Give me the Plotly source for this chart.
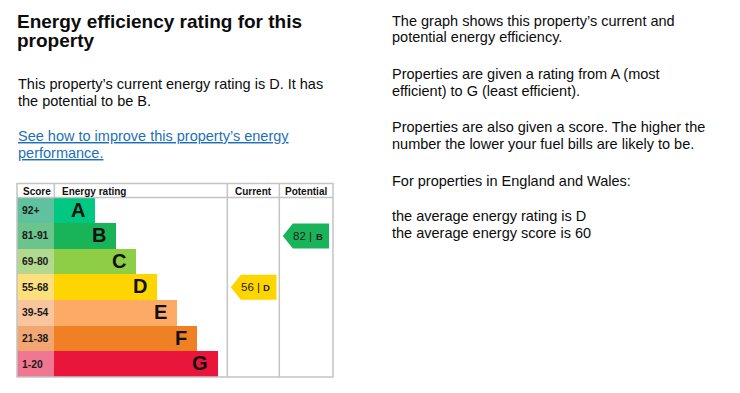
import plotly.graph_objects as go

# ---------------- data ----------------
bands = ["A", "B", "C", "D", "E", "F", "G"]
score_ranges = ["92+", "81-91", "69-80", "55-68", "39-54", "21-38", "1-20"]
band_min_score = [92, 81, 69, 55, 39, 21, 1]
band_bar_units = [2, 3, 4, 5, 6, 7, 8]          # relative bar lengths of the rating bands
band_colors = ["#00c781", "#19b459", "#8dce46", "#ffd500", "#fcaa65", "#ef8023", "#e9153b"]
score_colors = ["#60c19e", "#6bc48b", "#b3d98e", "#fde07b", "#f8c59d", "#f2a773", "#ef7791"]
current_score = 56
potential_score = 82
header_labels = ["Score", "Energy rating", "Current", "Potential"]

title_lines = ["Energy efficiency rating for this", "property"]
intro_lines = ["This property\u2019s current energy rating is D. It has", "the potential to be B."]
link_lines = ["See how to improve this property\u2019s energy", "performance."]
right_lines = [
    "The graph shows this property\u2019s current and",
    "potential energy efficiency.",
    "Properties are given a rating from A (most",
    "efficient) to G (least efficient).",
    "Properties are also given a score. The higher the",
    "number the lower your fuel bills are likely to be.",
    "For properties in England and Wales:",
    "the average energy rating is D",
    "the average energy score is 60",
]

# ---------------- layout constants ----------------
W, H = 740, 393
FONT = "Liberation Sans, Arial, sans-serif"
T_X0, T_X1 = 17, 333
T_Y0, T_Y1 = 183.5, 377
HEAD_H = 14
ROW_H = (T_Y1 - T_Y0 - HEAD_H) / len(bands)
SCORE_X1 = 54.3
UNIT = 20.45
CUR_X0, CUR_X1 = 227.3, 279.3
GRID = "#c4c4c4"


def row_center(i):
    return T_Y0 + HEAD_H + (i + 0.5) * ROW_H


def band_of(score):
    for i, m in enumerate(band_min_score):
        if score >= m:
            return i
    return len(bands) - 1


fig = go.Figure()
ys = [row_center(i) for i in range(len(bands))]

# score cells
fig.add_trace(go.Bar(
    orientation="h", y=ys, x=[SCORE_X1 - T_X0] * len(bands), base=T_X0,
    width=ROW_H, marker=dict(color=score_colors, line=dict(width=0)),
    hoverinfo="skip", showlegend=False,
))
# rating bars
fig.add_trace(go.Bar(
    orientation="h", y=ys, x=[u * UNIT for u in band_bar_units], base=SCORE_X1,
    width=ROW_H, marker=dict(color=band_colors, line=dict(width=0)),
    hoverinfo="skip", showlegend=False,
))

annotations = []
for i, (b, sr, u) in enumerate(zip(bands, score_ranges, band_bar_units)):
    annotations.append(dict(x=T_X0 + 3, y=ys[i], text="<b>" + sr + "</b>", xanchor="left",
                            yanchor="middle", font=dict(size=10.3, color="#1a1a1a", family=FONT)))
    annotations.append(dict(x=SCORE_X1 + u * UNIT - 8, y=ys[i] - 0.8, text="<b>" + b + "</b>",
                            xanchor="right", yanchor="middle",
                            font=dict(size=20, color="#111111", family=FONT)))


# arrows for current / potential
def arrow(score, x0, x1, color):
    i = band_of(score)
    yc = row_center(i)
    top, bot = yc - ROW_H / 2 + 0.3, yc + ROW_H / 2 - 0.3
    tip = 10
    xs = [x0, x0 + tip, x1, x1, x0 + tip, x0]
    yy = [yc, top, top, bot, bot, yc]
    fig.add_trace(go.Scatter(x=xs, y=yy, fill="toself", fillcolor=color, mode="lines",
                             line=dict(width=0, color=color), hoverinfo="skip", showlegend=False))
    annotations.append(dict(x=x0 + 8, y=yc, text=f"{score} |", xanchor="left", yanchor="middle",
                            font=dict(size=11.5, color="#222222", family=FONT)))
    annotations.append(dict(x=x1 - 10, y=yc + 0.5, text="<b>" + bands[i] + "</b>", xanchor="center",
                            yanchor="middle", font=dict(size=9.5, color="#222222", family=FONT)))


arrow(current_score, CUR_X0 + 3.5, CUR_X1 - 2.8, band_colors[band_of(current_score)])
arrow(potential_score, CUR_X1 + 3.5, T_X1 - 4, band_colors[band_of(potential_score)])

# table lines
shapes = []
line = dict(color=GRID, width=1.5)
shapes.append(dict(type="rect", x0=T_X0, x1=T_X1, y0=T_Y0, y1=T_Y1, line=line, layer="above"))
shapes.append(dict(type="line", x0=T_X0, x1=T_X1, y0=T_Y0 + HEAD_H, y1=T_Y0 + HEAD_H, line=line))
shapes.append(dict(type="line", x0=SCORE_X1, x1=SCORE_X1, y0=T_Y0, y1=T_Y0 + HEAD_H, line=line))
for xv in (CUR_X0, CUR_X1):
    shapes.append(dict(type="line", x0=xv, x1=xv, y0=T_Y0, y1=T_Y1, line=line))

# header labels
hy = T_Y0 + HEAD_H / 2
hx = [(T_X0 + 3.5, "left"), (SCORE_X1 + 6, "left"), ((CUR_X0 + CUR_X1) / 2, "center"),
      ((CUR_X1 + T_X1) / 2, "center")]
for (x, anc), lab in zip(hx, header_labels):
    annotations.append(dict(x=x, y=hy + 0.5, text="<b>" + lab + "</b>", xanchor=anc, yanchor="middle",
                            font=dict(size=10, color="#111111", family=FONT)))

# text blocks (y = baseline)
def text_line(x, baseline, txt, size, bold=False, color="#0b0c0c", underline=False):
    t = txt
    if underline:
        t = '<span style="text-decoration:underline">' + t + "</span>"
    if bold:
        t = "<b>" + t + "</b>"
    annotations.append(dict(x=x, y=baseline - 0.36 * size, text=t, xanchor="left", yanchor="middle",
                            font=dict(size=size, color=color, family=FONT)))


for txt, bl in zip(title_lines, [28.5, 47.5]):
    text_line(15, bl, txt, 19, bold=True)
for txt, bl in zip(intro_lines, [89.5, 106]):
    text_line(15.5, bl, txt, 14.5)
for txt, bl in zip(link_lines, [141.5, 158.5]):
    text_line(15.5, bl, txt, 14.5, color="#1d70b8", underline=True)
right_bl = [26.5, 42.5, 79, 96, 132.5, 149.5, 186.5, 221.5, 238]
for txt, bl in zip(right_lines, right_bl):
    text_line(389.5, bl, txt, 14.5)

for a in annotations:
    a.update(showarrow=False, xref="x", yref="y")

fig.update_layout(
    width=W, height=H, margin=dict(l=0, r=0, t=0, b=0),
    paper_bgcolor="white", plot_bgcolor="white",
    xaxis=dict(range=[0, W], visible=False, fixedrange=True),
    yaxis=dict(range=[H, 0], visible=False, fixedrange=True),
    barmode="overlay", bargap=0,
    shapes=shapes, annotations=annotations, showlegend=False,
)

fig.write_html("out.html", config={"displayModeBar": False},
               post_script="document.body.style.margin='0';document.body.style.overflow='hidden';")
